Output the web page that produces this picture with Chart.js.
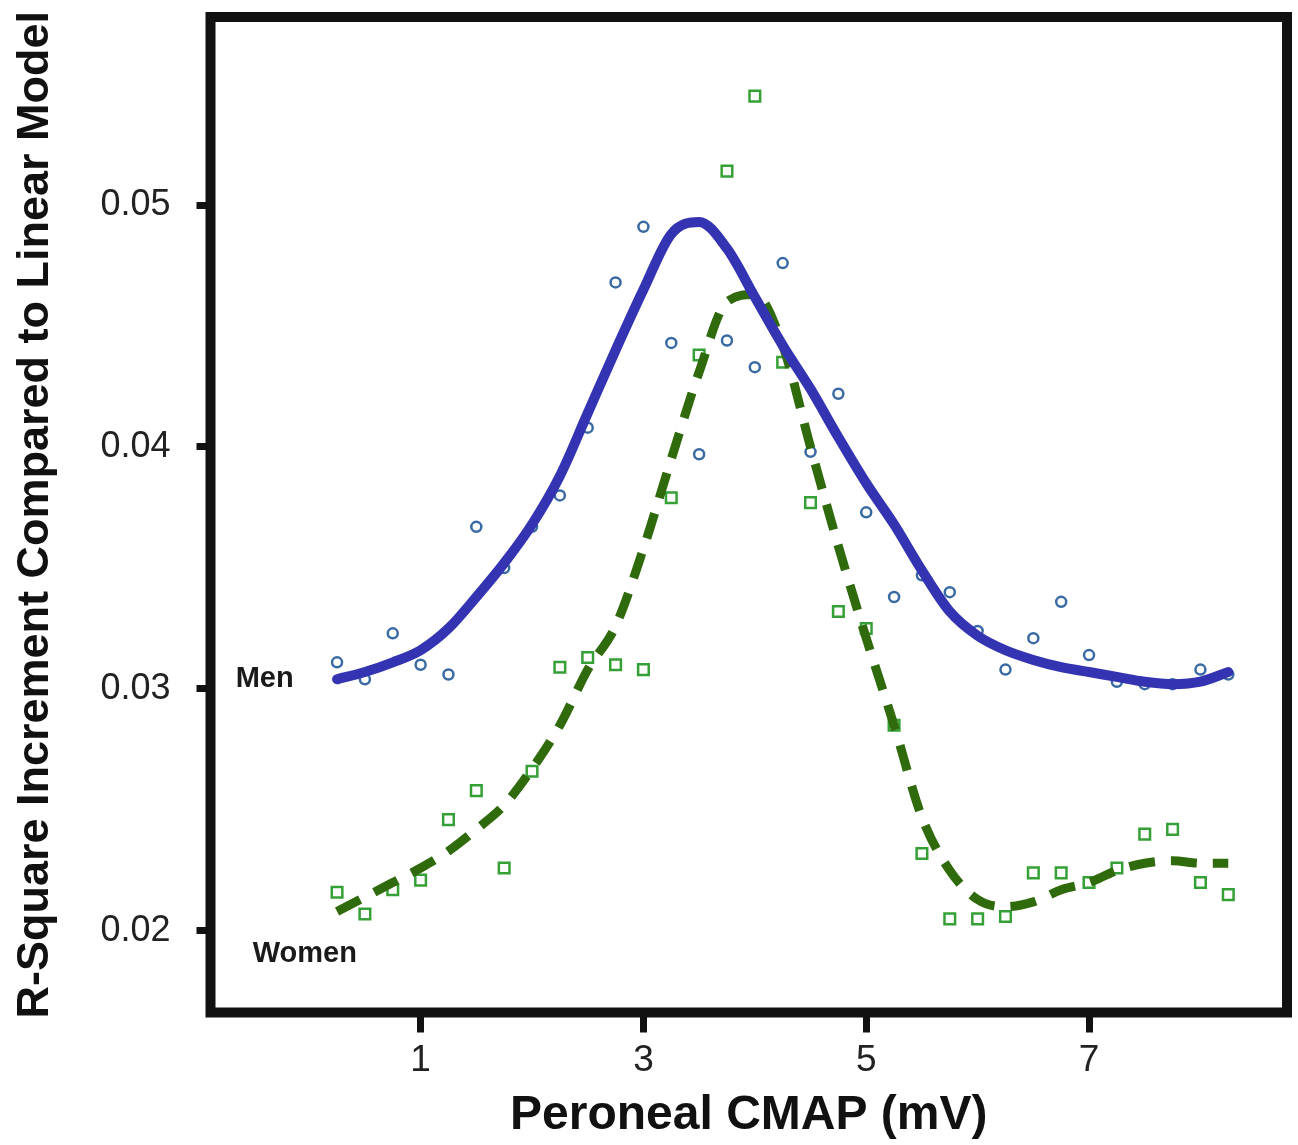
<!DOCTYPE html>
<html>
<head>
<meta charset="utf-8">
<script src="https://cdn.jsdelivr.net/npm/chart.js@4.4.1/dist/chart.umd.min.js"></script>
<style>
  html, body { margin: 0; padding: 0; background: #fff; }
  #wrap { width: 1298px; height: 1145px; }
</style>
</head>
<body>
<div id="wrap"><canvas id="myChart" width="1298" height="1145"></canvas></div>
<script>
// peroneal CMAP values (mV) where each model was fitted
var cmap = [0.25, 0.5, 0.75, 1.0, 1.25, 1.5, 1.75, 2.0, 2.25, 2.5, 2.75, 3.0, 3.25, 3.5, 3.75, 4.0,
            4.25, 4.5, 4.75, 5.0, 5.25, 5.5, 5.75, 6.0, 6.25, 6.5, 6.75, 7.0, 7.25, 7.5, 7.75, 8.0, 8.25];

// R-square increment, observed points
var menPts = [0.0311, 0.0304, 0.0323, 0.0310, 0.0306, 0.0367, 0.0350, 0.0367, 0.0380, 0.0408, 0.0468,
              0.0491, 0.0443, 0.0397, 0.0444, 0.0433, 0.0476, 0.0398, 0.0422, 0.0373, 0.0338, 0.0347,
              0.0340, 0.0324, 0.0308, 0.0321, 0.0336, 0.0314, 0.0303, 0.0302, 0.0302, 0.0308, 0.0306];
var womenPts = [0.0216, 0.0207, 0.0217, 0.0221, 0.0246, 0.0258, 0.0226, 0.0266, 0.0309, 0.0313, 0.0310,
                0.0308, 0.0379, 0.0438, 0.0514, 0.0545, 0.0435, 0.0377, 0.0332, 0.0325, 0.0285, 0.0232,
                0.0205, 0.0205, 0.0206, 0.0224, 0.0224, 0.0220, 0.0226, 0.0240, 0.0242, 0.0220, 0.0215];

// smoothed curves
var menFit = [0.0304, 0.0307, 0.0311, 0.0316, 0.0325, 0.0338, 0.0352, 0.0368, 0.0388, 0.0414, 0.0440,
              0.0465, 0.0488, 0.0493, 0.0482, 0.0462, 0.0442, 0.0424, 0.0404, 0.0385, 0.0368, 0.0349,
              0.0332, 0.0322, 0.0316, 0.0312, 0.0309, 0.0307, 0.0305, 0.0303, 0.0302, 0.0303, 0.0307];
var womenFit = [0.0208, 0.0214, 0.0220, 0.0226, 0.0233, 0.0242, 0.0252, 0.0267, 0.0285, 0.0308, 0.0326,
                0.0358, 0.0395, 0.0431, 0.0460, 0.0463, 0.0442, 0.0400, 0.0359, 0.0321, 0.0285, 0.0247,
                0.0225, 0.0213, 0.0210, 0.0212, 0.0217, 0.0220, 0.0225, 0.0228, 0.0229, 0.0228, 0.0228];

var xTicks = [1, 3, 5, 7];
var yTicks = [0.02, 0.03, 0.04, 0.05];

var seriesLabels = [
  { text: 'Men', x: -0.40, y: 0.0304 },
  { text: 'Women', x: -0.04, y: 0.01905 }
];

function pairs(xs, ys) {
  return xs.map(function (x, i) { return { x: x, y: ys[i] }; });
}

// black box round the plot + the Men / Women labels
var framePlugin = {
  id: 'frame',
  afterDraw: function (chart) {
    var ctx = chart.ctx, a = chart.chartArea;
    ctx.save();
    ctx.strokeStyle = '#111';
    ctx.lineWidth = 10;
    ctx.strokeRect(a.left, a.top, a.right - a.left, a.bottom - a.top);
    ctx.fillStyle = '#1a1a1a';
    ctx.font = 'bold 29px "Liberation Sans", Arial, sans-serif';
    ctx.textAlign = 'center';
    ctx.textBaseline = 'middle';
    seriesLabels.forEach(function (l) {
      ctx.fillText(l.text, chart.scales.x.getPixelForValue(l.x), chart.scales.y.getPixelForValue(l.y));
    });
    ctx.restore();
  }
};

var ctx = document.getElementById('myChart').getContext('2d');
var myChart = new Chart(ctx, {
  type: 'line',
  data: {
    datasets: [{
      label: 'Men fit',
      data: pairs(cmap, menFit),
      borderColor: '#3434b2',
      borderWidth: 10,
      pointRadius: 0,
      fill: false,
      cubicInterpolationMode: 'monotone',
      borderCapStyle: 'round'
    }, {
      label: 'Women fit',
      data: pairs(cmap, womenFit),
      borderColor: '#2f6a0c',
      borderWidth: 9,
      borderDash: [26, 16],
      pointRadius: 0,
      fill: false,
      cubicInterpolationMode: 'monotone'
    }, {
      label: 'Men',
      data: pairs(cmap, menPts),
      showLine: false,
      pointStyle: 'circle',
      pointRadius: 5,
      pointBorderWidth: 2.5,
      pointBorderColor: '#3a6aa3',
      pointBackgroundColor: 'rgba(255,255,255,0)'
    }, {
      label: 'Women',
      data: pairs(cmap, womenPts),
      showLine: false,
      pointStyle: 'rect',
      pointRadius: 7.5,
      pointBorderWidth: 2.5,
      pointBorderColor: '#35a035',
      pointBackgroundColor: 'rgba(255,255,255,0)'
    }]
  },
  options: {
    responsive: false,
    animation: false,
    layout: { padding: { top: 17, right: 11, left: 0, bottom: 0 } },
    plugins: { legend: { display: false }, tooltip: { enabled: false } },
    scales: {
      x: {
        type: 'linear',
        min: -0.886,
        max: 8.777,
        afterBuildTicks: function (s) { s.ticks = xTicks.map(function (v) { return { value: v }; }); },
        afterFit: function (s) { s.height = 132.5; s.paddingLeft = 0; s.paddingRight = 0; },
        border: { display: false },
        grid: { drawOnChartArea: false, color: '#111', lineWidth: 7, tickLength: 20 },
        ticks: {
          color: '#222',
          padding: 6,
          maxRotation: 0,
          font: { family: '"Liberation Sans", Arial, sans-serif', size: 37 }
        },
        title: {
          display: true,
          text: 'Peroneal CMAP (mV)',
          color: '#111',
          padding: { top: 0, bottom: 0 },
          font: { family: '"Liberation Sans", Arial, sans-serif', size: 48, weight: 'bold', lineHeight: 1.2 }
        }
      },
      y: {
        type: 'linear',
        min: 0.01663,
        max: 0.05777,
        afterBuildTicks: function (s) { s.ticks = yTicks.map(function (v) { return { value: v }; }); },
        afterFit: function (s) { s.width = 210.5; s.paddingTop = 0; s.paddingBottom = 0; },
        border: { display: false },
        grid: { drawOnChartArea: false, color: '#111', lineWidth: 7, tickLength: 14 },
        ticks: {
          color: '#222',
          padding: 26,
          callback: function (v) { return v.toFixed(2); },
          font: { family: '"Liberation Sans", Arial, sans-serif', size: 36 }
        },
        title: {
          display: true,
          text: 'R-Square Increment Compared to Linear Model',
          color: '#111',
          padding: { top: 9, bottom: 0 },
          font: { family: '"Liberation Sans", Arial, sans-serif', size: 45, weight: 'bold', lineHeight: 1.2 }
        }
      }
    }
  },
  plugins: [framePlugin]
});
</script>
</body>
</html>
